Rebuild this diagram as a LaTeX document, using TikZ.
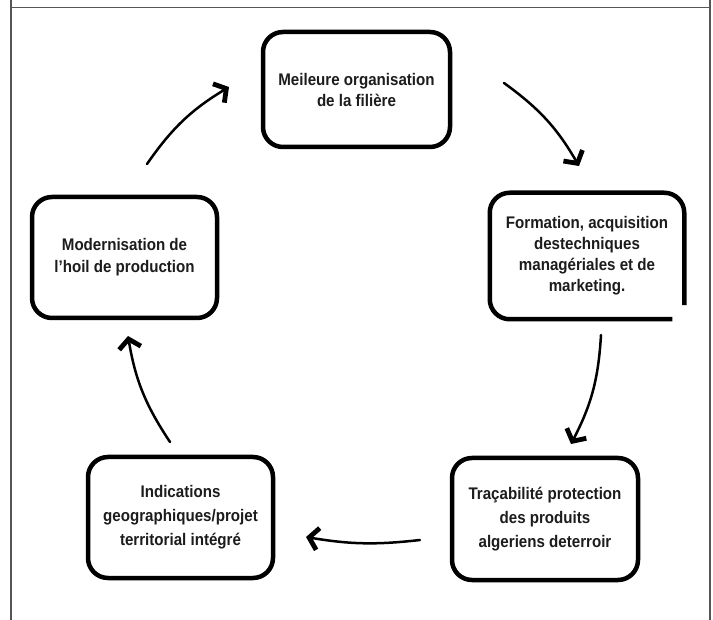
\documentclass[tikz,border=0pt]{standalone}
\usepackage{fontspec}
\setmainfont{Liberation Sans}[FakeStretch=0.9]
\usetikzlibrary{arrows.meta}
\definecolor{txt}{HTML}{1C1C1C}
\definecolor{frame}{HTML}{555555}
\begin{document}
\begin{tikzpicture}[x=1pt,y=-1pt,
  boxline/.style={draw=black,line width=4.5pt,rounded corners=20pt},
  stagebox/.style={boxline,fill=white,
    inner sep=0pt,text=txt,align=center,
    font=\fontsize{16.8}{21}\selectfont\bfseries},
  flowarrow/.style={line width=2.5pt,line cap=round,
    -{Straight Barb[length=9pt,width=22pt,line width=4.8pt]}},
  frameline/.style={draw=frame,line width=1.4pt}]
\useasboundingbox (0,0) rectangle (713,620);
% frame
\coordinate (fl0) at (11,0); \coordinate (fl1) at (11,620);
\coordinate (fr0) at (710,0); \coordinate (fr1) at (710,620);
\coordinate (ft0) at (11,7.5); \coordinate (ft1) at (710,7.5);
\draw[frameline] (fl0) -- (fl1);
\draw[frameline] (fr0) -- (fr1);
\draw[frameline] (ft0) -- (ft1);
% boxes
\node[stagebox,minimum width=187pt,minimum height=115pt] (b1) at (356.5,89.5)
  {Meileure organisation\\de la filière};
\node[stagebox,draw=none,minimum width=190pt,minimum height=122pt] (b2) at (587,256)
  {Formation, acquisition\\destechniques\\managériales et de\\marketing.};
\draw[boxline] ([xshift=-12pt]b2.south east) -- (b2.south west)
  -- (b2.north west) -- (b2.north east) -- ([yshift=14pt]b2.south east);
\node[stagebox,minimum width=186pt,minimum height=122pt,
  font=\fontsize{16.8}{24}\selectfont\bfseries] (b3) at (545,519)
  {Traçabilité protection\\des produits\\algeriens deterroir};
\node[stagebox,minimum width=185pt,minimum height=121pt,
  font=\fontsize{16.8}{24}\selectfont\bfseries] (b4) at (180.5,517.5)
  {Indications\\geographiques/projet\\territorial intégré};
\node[stagebox,minimum width=185pt,minimum height=121pt,
  font=\fontsize{16.8}{22}\selectfont\bfseries] (b5) at (124.5,257.5)
  {Modernisation de\\l’hoil de production};
% arrow ends
\coordinate (a1s) at (147,164); \coordinate (a1e) at (229,87);
\coordinate (a2s) at (504,83);  \coordinate (a2e) at (579,166);
\coordinate (a3s) at (601,335); \coordinate (a3e) at (571,444);
\coordinate (a4s) at (420,540); \coordinate (a4e) at (306,537);
\coordinate (a5s) at (170,442); \coordinate (a5e) at (128,336);
\draw[flowarrow] (a1s) to[bend left=12] (a1e);
\draw[flowarrow] (a2s) to[bend left=12] (a2e);
\draw[flowarrow] (a3s) to[bend left=12] (a3e);
\draw[flowarrow] (a4s) to[bend left=8] (a4e);
\draw[flowarrow] (a5s) to[bend left=12] (a5e);
\end{tikzpicture}
\end{document}
